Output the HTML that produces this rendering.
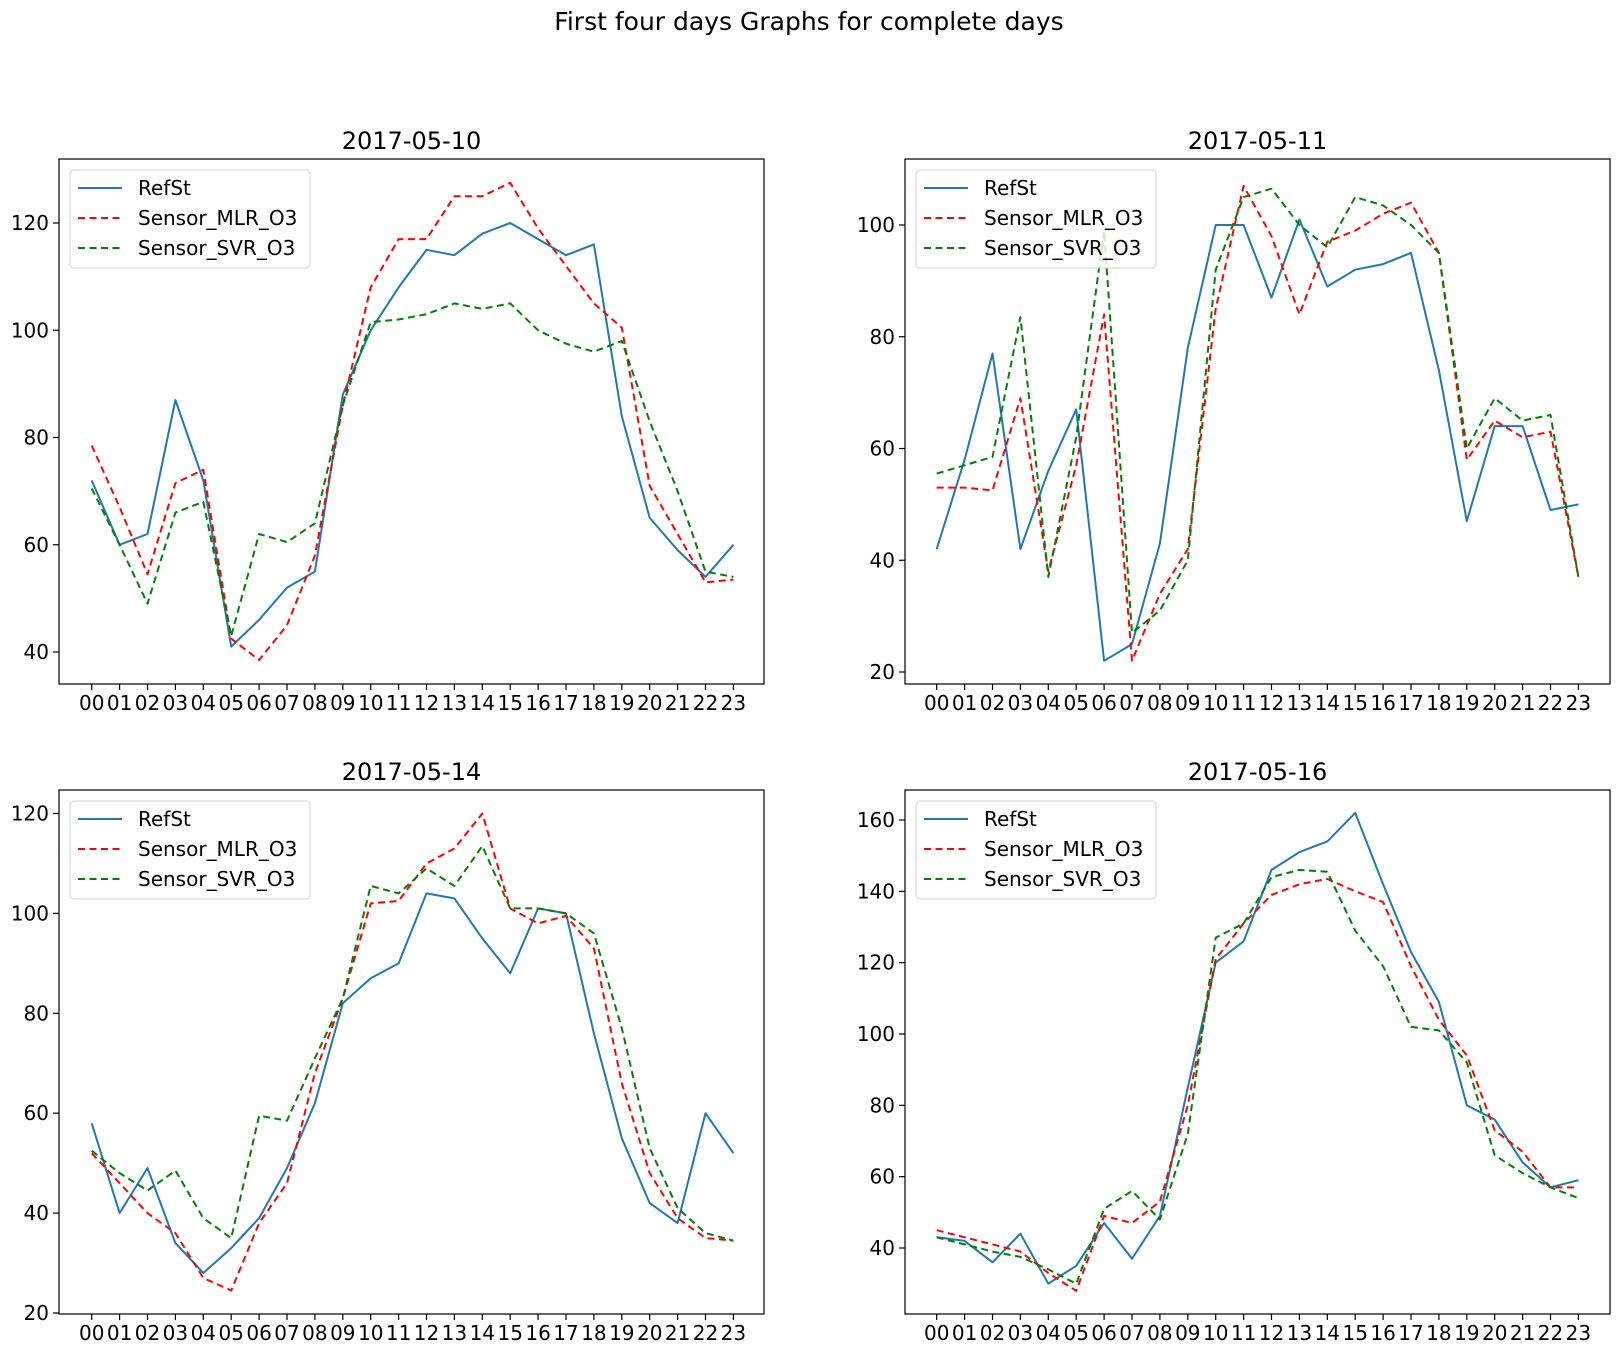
<!DOCTYPE html>
<html><head><meta charset="utf-8"><style>
html,body{margin:0;padding:0;background:#fff;}
svg{display:block;font-family:"DejaVu Sans","Liberation Sans",sans-serif;}
</style></head><body>
<svg id="fig" width="1619" height="1354" viewBox="0 0 1619 1354" xmlns="http://www.w3.org/2000/svg">
<rect width="1619" height="1354" fill="#fff"/>
<text x="809" y="30" font-size="25" text-anchor="middle">First four days Graphs for complete days</text>
</svg>
<script>
const hours = ["00","01","02","03","04","05","06","07","08","09","10","11","12","13","14","15","16","17","18","19","20","21","22","23"];
const titles = ["2017-05-10","2017-05-11","2017-05-14","2017-05-16"];
const seriesNames = ["RefSt","Sensor_MLR_O3","Sensor_SVR_O3"];
const ref10 = [72,60,62,87,72,41,46,52,55,88,100,108,115,114,118,120,117,114,116,84,65,59,54,60];
const mlr10 = [78.5,67,54.5,71.5,74,42.5,38.5,45,58,86,108,117,117,125,125,127.5,119,112,105,100.5,71,62,53,53.5];
const svr10 = [70.5,60,49,66,68,43,62,60.5,64,86,101.5,102,103,105,104,105,100,97.5,96,98,83,70,55,54];
const ref11 = [42,58,77,42,56,67,22,25,43,78,100,100,87,101,89,92,93,95,74,47,64,64,49,50];
const mlr11 = [53,53,52.5,69,38,57,84,22,34,42,85,107,98,84,97,99,102,104,95,58,65,62,63,37];
const svr11 = [55.5,57,58.5,83.5,37,62,99,27,31,40,92,105,106.5,100,96,105,103.5,100,95,60,69,65,66,37];
const ref14 = [58,40,49,34,28,33,39,49,62,82,87,90,104,103,95,88,101,100,76,55,42,38,60,52];
const mlr14 = [52,46,40,36,27,24.5,38,46,68,83,102,102.5,110,113,120,101,98,99.5,93,66,48,39,35,34.5];
const svr14 = [52.5,48,44.5,48.5,39,35,59.5,58.5,71,83,105.5,104,109,105.5,113.5,101,101,100,96,77,53,41,36,34.5];
const ref16 = [43,42,36,44,30,35,47,37,49,85,120,126,146,151,154,162,142,123,109,80,76,64,57,59];
const mlr16 = [45,43,41,39,33,28,49,47,53,80,121,131,139,142,143.5,140,137,119,104,94,73,67,57,57];
const svr16 = [43,41,39,37.5,34,30,51,56,48,72,127,131,144,146,145.5,129,119,102,101,92,66,61,57,54];
const ticks10 = [40,60,80,100,120];
const ticks11 = [20,40,60,80,100];
const ticks14 = [20,40,60,80,100,120];
const ticks16 = [40,60,80,100,120,140,160];

const NS = "http://www.w3.org/2000/svg";
const fig = document.getElementById('fig');
function mk(tag, attrs, parent){const e=document.createElementNS(NS,tag);for(const k in attrs)e.setAttribute(k,attrs[k]);(parent||fig).appendChild(e);return e;}

const panels = [
 {L:59,R:764,T:159,B:684,x0:91.7,xs:27.9,v1:120,p1:223,v2:40,p2:652,ticks:ticks10,data:[ref10,mlr10,svr10]},
 {L:905,R:1610,T:159,B:684,x0:936.7,xs:27.9,v1:100,p1:225,v2:20,p2:672,ticks:ticks11,data:[ref11,mlr11,svr11]},
 {L:59,R:764,T:790,B:1314,x0:91.7,xs:27.9,v1:120,p1:813.5,v2:20,p2:1313,ticks:ticks14,data:[ref14,mlr14,svr14]},
 {L:905,R:1610,T:790,B:1314,x0:936.7,xs:27.9,v1:160,p1:820,v2:40,p2:1248,ticks:ticks16,data:[ref16,mlr16,svr16]}
];
const colors = ["#1f77b4","#ff0000","#008000"];
const dashes = ["none","7,4.5","7,4.5"];

panels.forEach((p,i)=>{
  const g = mk('g',{});
  
  
  const xS = k => p.x0 + k*p.xs;
  const yS = v => p.p1 + (v-p.v1)*(p.p2-p.p1)/(p.v2-p.v1);
  const t = mk('text',{x:(p.L+p.R)/2,y:p.T-10,'font-size':24,'text-anchor':'middle'},g);
  t.textContent = titles[i];
  
  
  hours.forEach((h,k)=>{
    const x = xS(k);
    mk('line',{x1:x,x2:x,y1:p.B,y2:p.B+6,stroke:'#000','stroke-width':1.2},g);
    const tl = mk('text',{x:x,y:p.B+26,'font-size':20,'text-anchor':'middle'},g);
    tl.textContent = h;
    
    
  });
  p.ticks.forEach(v=>{
    const y = yS(v);
    mk('line',{x1:p.L-6,x2:p.L,y1:y,y2:y,stroke:'#000','stroke-width':1.2},g);
    const tl = mk('text',{x:p.L-10,y:y+7,'font-size':20,'text-anchor':'end'},g);
    tl.textContent = v;
    
    
  });
  p.data.forEach((arr,s)=>{
    const pts = arr.map((v,k)=>xS(k).toFixed(1)+','+yS(v).toFixed(1)).join(' ');
    const pl = mk('polyline',{points:pts,fill:'none',stroke:colors[s],'stroke-width':2,'stroke-dasharray':dashes[s],'stroke-linejoin':'round'},g);
    
    
  });
  mk('rect',{x:p.L,y:p.T,width:p.R-p.L,height:p.B-p.T,fill:'none',stroke:'#000','stroke-width':1.2},g);
  const lg = mk('g',{},g);
  
  
  const lx = p.L+11, ly = p.T+11;
  mk('rect',{x:lx,y:ly,width:240,height:98,rx:4,fill:'#fff','fill-opacity':0.8,stroke:'#d0d0d0','stroke-width':1},lg);
  seriesNames.forEach((n,s)=>{
    const y = ly+18+s*30;
    mk('line',{x1:lx+8,x2:lx+52,y1:y,y2:y,stroke:colors[s],'stroke-width':2,'stroke-dasharray':dashes[s]},lg);
    const tx = mk('text',{x:lx+68,y:y+7,'font-size':20},lg);
    tx.textContent = n;
    
    
  });
});
</script>
</body></html>
